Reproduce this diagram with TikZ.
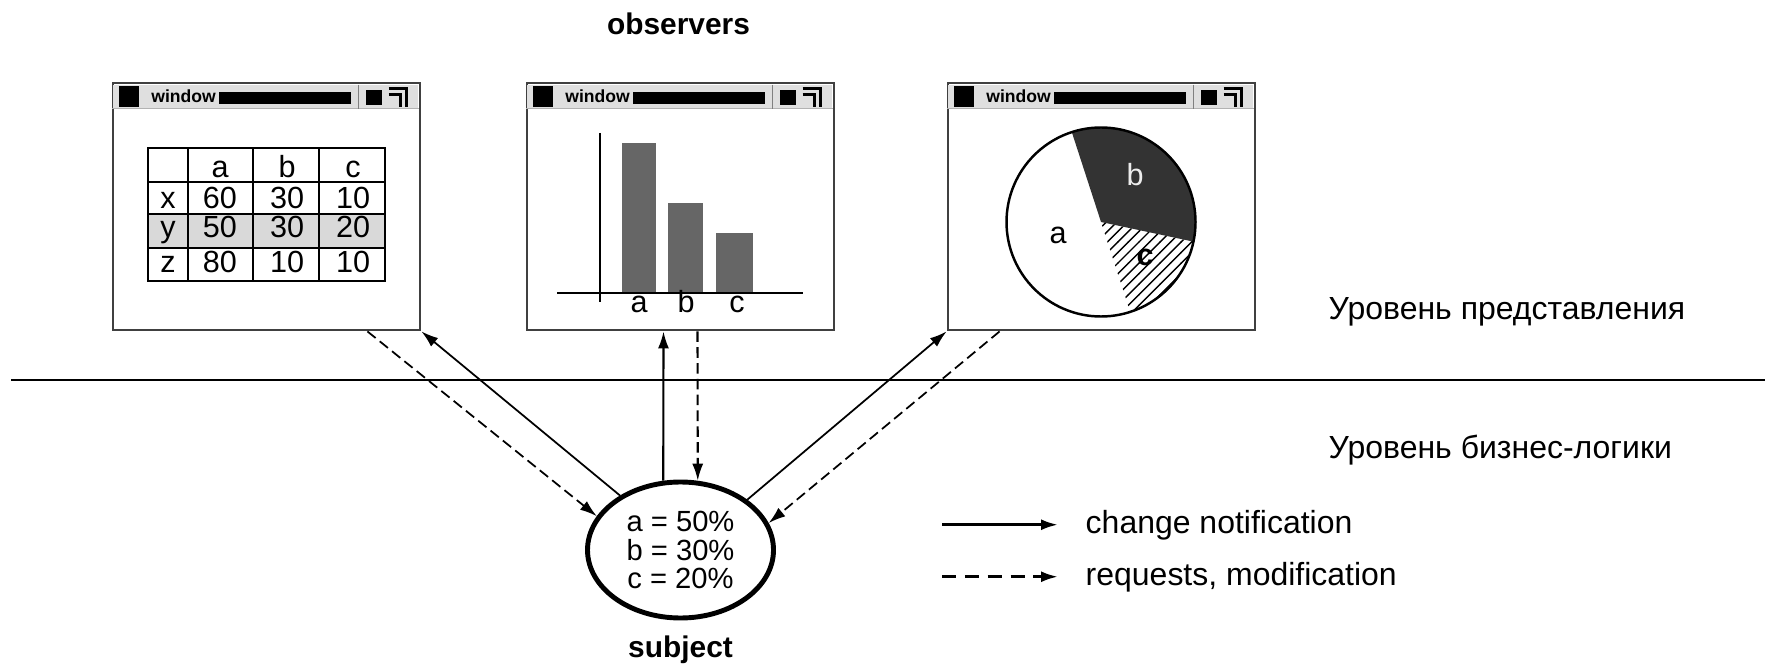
\documentclass[tikz,border=0pt]{standalone}
\usepackage{fontspec}
\setmainfont{Liberation Sans}
\usetikzlibrary{positioning,arrows.meta,shapes.geometric,patterns}

\begin{document}
\begin{tikzpicture}[
  window/.style={rectangle, draw=black!75, line width=0.8pt, fill=white, minimum width=3.07cm, minimum height=2.47cm, inner sep=0pt},
  subjectnode/.style={ellipse, draw, line width=1.4pt, minimum width=1.86cm, minimum height=1.36cm, inner sep=0pt, align=center, font=\fontsize{8.3}{8.1}\selectfont},
  cell/.style={anchor=base, inner sep=0pt, font=\fontsize{8.7}{10}\selectfont},
  caption/.style={anchor=base, inner sep=0pt, font=\bfseries\fontsize{8.5}{10}\selectfont},
  level/.style={anchor=base west, inner sep=0pt, font=\fontsize{9.1}{11}\selectfont},
  req/.style={dash pattern=on 3pt off 1.5pt},
  >={Latex[length=0.17cm,width=0.11cm]}
]
  \useasboundingbox (0,0) rectangle (17.65,6.64);

  % observer windows
  \node[window] (win1) at (2.665,4.575) {};
  \node[window] (win2) at (6.805,4.575) {};
  \node[window] (win3) at (11.015,4.575) {};
  \foreach \w in {win1,win2,win3} {
    \begin{scope}[shift={(\w.north west)}]
      \fill[gray!25] (0.01,-0.03) rectangle (3.06,-0.27);
      \draw[gray!60] (0,-0.27) -- (3.07,-0.27);
      \fill (0.07,-0.04) rectangle (0.27,-0.25);
      \node[inner sep=0pt, font=\bfseries\fontsize{5}{6}\selectfont] (\w-title) at (0.72,-0.15) {window};
      \fill (1.07,-0.10) rectangle (2.39,-0.22);
      \draw[gray] (2.47,-0.03) -- (2.47,-0.27);
      \fill (2.54,-0.08) rectangle (2.70,-0.23);
      \draw[line width=1pt] (2.77,-0.07) -| (2.95,-0.25) (2.77,-0.13) -| (2.89,-0.25);
    \end{scope}
  }

  % table
  \fill[black!15] (1.48,4.50) rectangle (3.85,4.16);
  \draw[line width=0.7pt] (1.48,3.83) rectangle (3.85,5.16);
  \foreach \y in {4.82,4.50,4.16} \draw[line width=0.7pt] (1.48,\y) -- (3.85,\y);
  \foreach \x in {1.88,2.53,3.19} \draw[line width=0.7pt] (\x,3.83) -- (\x,5.16);
  \foreach \x/\t in {2.20/a,2.87/b,3.53/c} \node[cell] (head-\t) at (\x,4.86) {\t};
  \foreach \y/\r/\p/\q/\s in {4.55/x/60/30/10, 4.26/y/50/30/20, 3.91/z/80/10/10} {
    \node[cell] (row-\r) at (1.68,\y) {\r};
    \node[cell] (\r-a) at (2.20,\y) {\p};
    \node[cell] (\r-b) at (2.87,\y) {\q};
    \node[cell] (\r-c) at (3.53,\y) {\s};
  }

  % bar chart
  \fill[black!60] (6.22,3.71) rectangle (6.56,5.21);
  \fill[black!60] (6.68,3.71) rectangle (7.03,4.61);
  \fill[black!60] (7.16,3.71) rectangle (7.53,4.31);
  \draw[line width=0.8pt] (6.00,5.31) -- (6.00,3.62);
  \draw[line width=0.8pt] (5.57,3.71) -- (8.03,3.71);
  \node[cell] (bar-a) at (6.39,3.51) {a};
  \node[cell] (bar-b) at (6.86,3.51) {b};
  \node[cell] (bar-c) at (7.37,3.51) {c};

  % pie chart
  \fill[black!80] (11.01,4.42) -- +(-12:0.945) arc[start angle=-12, end angle=108, radius=0.945] -- cycle;
  \fill[pattern=north east lines] (11.01,4.42) -- +(-72:0.945) arc[start angle=-72, end angle=-12, radius=0.945] -- cycle;
  \draw[line width=0.7pt] (11.01,4.42) circle[radius=0.945];
  \node[cell] (pie-a) at (10.58,4.20) {a};
  \node[cell, text=gray!15] (pie-b) at (11.35,4.78) {b};
  \node[cell, font=\bfseries\fontsize{8.7}{10}\selectfont] (pie-c) at (11.45,3.98) {c};

  \node[caption] (observers) at (6.785,6.29) {observers};

  % layers
  \draw[line width=0.6pt] (0.11,2.84) -- (17.65,2.84);
  \node[level] (view) at (13.28,3.44) {Уровень представления};
  \node[level] (logic) at (13.28,2.06) {Уровень бизнес-логики};

  % subject
  \node[subjectnode] (subject) at (6.805,1.14) {a = 50\%\\b = 30\%\\c = 20\%};
  \node[caption] (subjlabel) at (6.805,0.07) {subject};

  \draw[->, line width=0.5pt] (subject.138) -- (win1.south east);
  \draw[->, line width=0.5pt, req] ([xshift=-0.54cm]win1.south east) -- (subject.158);
  \draw[->, line width=0.6pt] (subject.104) -- ([xshift=-0.17cm]win2.south);
  \draw[->, line width=0.6pt, req] ([xshift=0.17cm]win2.south) -- (subject.76);
  \draw[->, line width=0.5pt] (subject.37) -- (win3.south west);
  \draw[->, line width=0.5pt, req] ([xshift=0.53cm]win3.south west) -- (subject.17);

  % legend
  \node[level] (notif) at (10.85,1.31) {change notification};
  \node[level] (modif) at (10.85,0.79) {requests, modification};
  \draw[->, line width=0.8pt] ([xshift=-1.43cm]notif.west) -- ([xshift=-0.27cm]notif.west);
  \draw[->, line width=0.8pt, dash pattern=on 4pt off 2.5pt] ([xshift=-1.43cm]modif.west) -- ([xshift=-0.27cm]modif.west);
\end{tikzpicture}
\end{document}
